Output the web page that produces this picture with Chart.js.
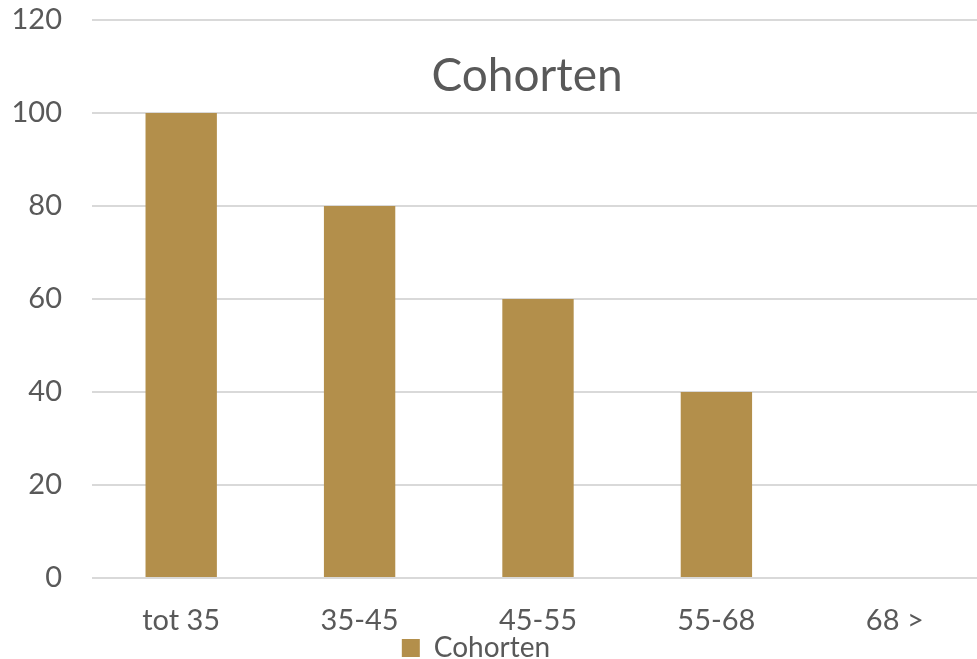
<!DOCTYPE html>
<html>
<head>
<meta charset="utf-8">
<script src="https://cdn.jsdelivr.net/npm/chart.js@4"></script>
<style>
  html, body { margin: 0; padding: 0; background: #fff; overflow: hidden; }
  #wrap { width: 984px; height: 672px; }
</style>
</head>
<body>
<div id="wrap"><canvas id="chart"></canvas></div>
<script>
// chart data
var categories = ['tot 35', '35-45', '45-55', '55-68', '68 >'];
var cohortValues = [100, 80, 60, 40, 0];
var yTicks = [0, 20, 40, 60, 80, 100, 120];

var textColor = '#595959';
var barColor = '#B38F4B';
var fontFamily = 'Lato, "Open Sans", sans-serif';

// Title sits inside the plot area, like in the original
var innerTitle = {
  id: 'innerTitle',
  afterDraw: function (chart) {
    var ctx = chart.ctx;
    ctx.save();
    ctx.font = '46px ' + fontFamily;
    ctx.fillStyle = textColor;
    ctx.textAlign = 'center';
    ctx.textBaseline = 'middle';
    ctx.fillText('Cohorten', 527, 76);
    ctx.restore();
  }
};

// legend in the original is a bit left of the canvas centre
var legendShift = {
  id: 'legendShift',
  afterLayout: function (chart) {
    chart.legend.left -= 16;
    chart.legend.right -= 16;
  }
};

var ctx = document.getElementById('chart').getContext('2d');
new Chart(ctx, {
  type: 'bar',
  data: {
    labels: categories,
    datasets: [{
      label: 'Cohorten',
      data: cohortValues,
      backgroundColor: barColor,
      borderWidth: 0,
      categoryPercentage: 1,
      barPercentage: 0.4
    }]
  },
  options: {
    responsive: true,
    maintainAspectRatio: false,
    animation: false,
    layout: { padding: { top: 20, left: 0, right: 0, bottom: 0 } },
    plugins: {
      legend: {
        position: 'bottom',
        labels: {
          color: textColor,
          font: { family: fontFamily, size: 28, lineHeight: 1 },
          boxWidth: 18,
          boxHeight: 18,
          padding: 0
        }
      },
      tooltip: { enabled: false },
      title: { display: false }
    },
    scales: {
      y: {
        min: 0,
        max: 120,
        afterBuildTicks: function (scale) {
          scale.ticks = yTicks.map(function (v) { return { value: v }; });
        },
        afterFit: function (scale) {
          scale.width = 92;
          scale.paddingTop = 0;
          scale.paddingBottom = 0;
        },
        border: { display: false },
        grid: { color: '#d9d9d9', lineWidth: 2, drawTicks: false },
        ticks: {
          color: textColor,
          font: { family: fontFamily, size: 29 },
          padding: 30
        }
      },
      x: {
        afterFit: function (scale) { scale.height = 56; },
        border: { display: false },
        grid: { display: false, drawTicks: false },
        ticks: {
          color: textColor,
          font: { family: fontFamily, size: 29, lineHeight: 1 },
          padding: 28
        }
      }
    }
  },
  plugins: [innerTitle, legendShift]
});
</script>
</body>
</html>
